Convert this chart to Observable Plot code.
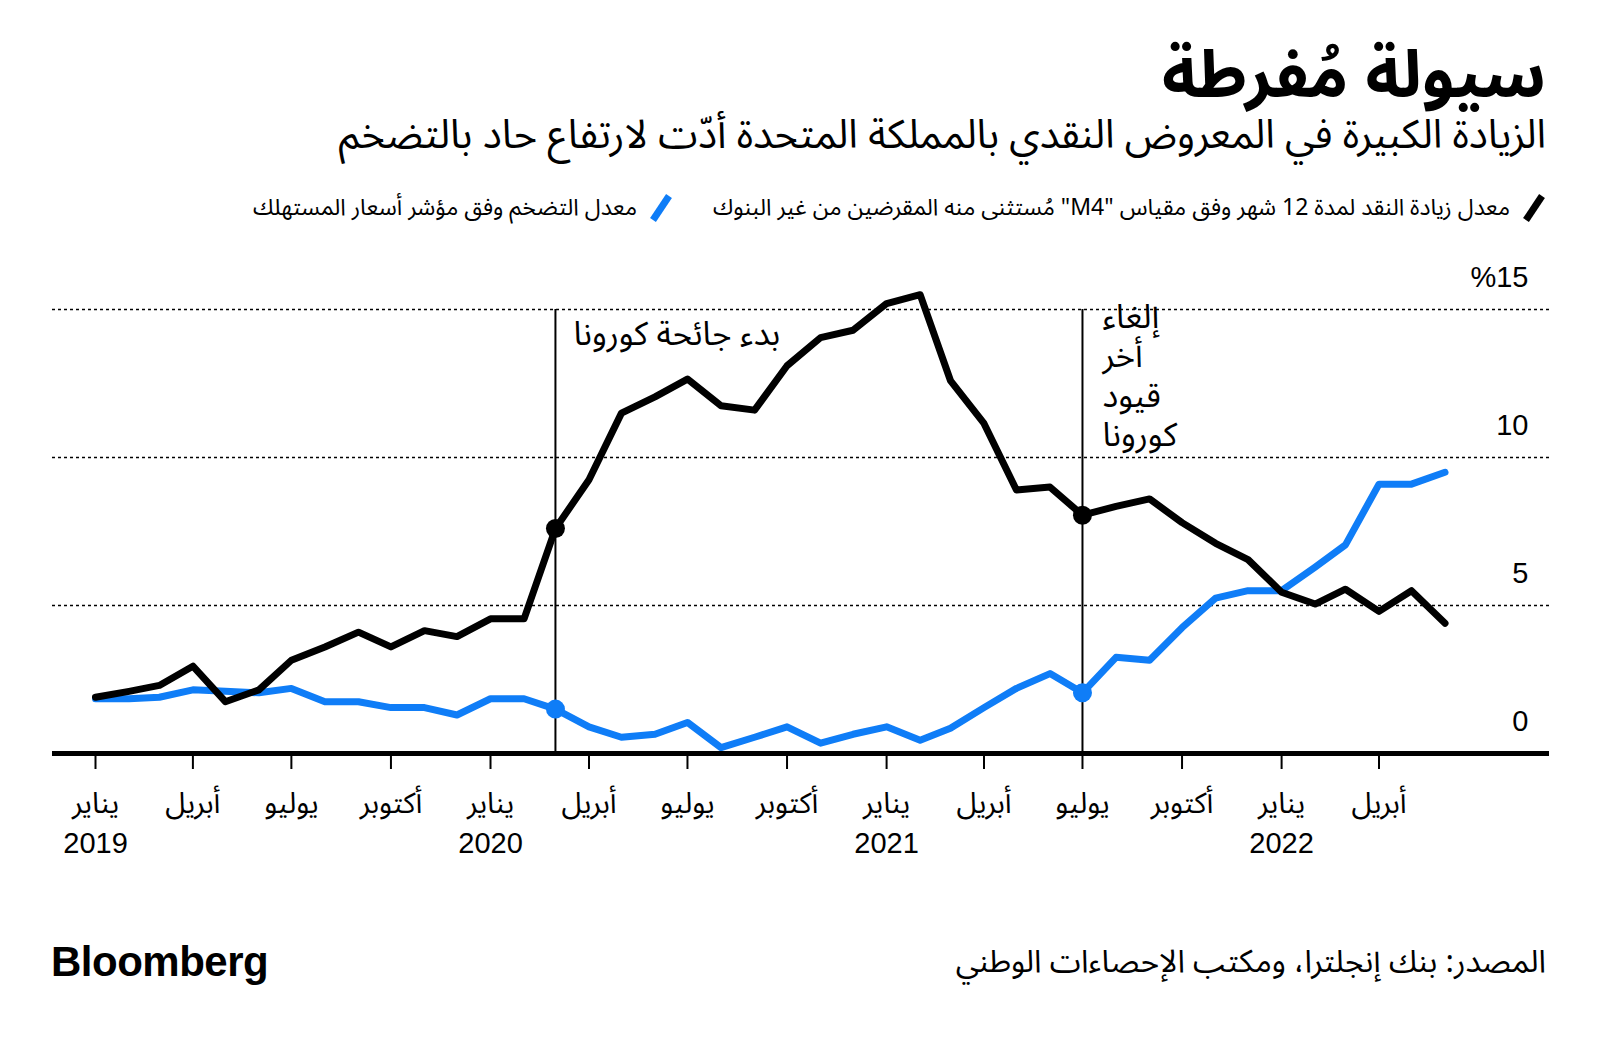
<!DOCTYPE html>
<html lang="ar">
<head>
<meta charset="utf-8">
<script src="https://cdn.jsdelivr.net/npm/d3@7"></script>
<script src="https://cdn.jsdelivr.net/npm/@observablehq/plot@0.6"></script>
<style>
  html, body { margin: 0; padding: 0; background: #fff; }
  #page { position: relative; width: 1600px; height: 1042px; overflow: hidden; background: #fff;
          font-family: "Noto Sans Arabic", "DejaVu Sans", sans-serif; color: #000; }
  .abs { position: absolute; white-space: nowrap; }
  #title { right: 54px; top: 37px; font-size: 66px; font-weight: 700; direction: rtl; line-height: 1.2; }
  #subtitle { right: 54px; top: 110px; font-size: 40px; direction: rtl; line-height: 1.3; }
  #legend { right: 54px; top: 193px; font-size: 23px; direction: rtl; display: flex; align-items: center; gap: 0; line-height: 1.3; }
  .item { display: flex; align-items: center; }
  .sw { margin-left: 12px; }
  .item + .item { margin-right: 40px; }
  #chart { position: absolute; left: 0; top: 250px; }
  #source { right: 54px; top: 942px; font-size: 31.5px; direction: rtl; line-height: 1.3; }
  #logo { left: 51px; top: 937px; font-family: "Liberation Sans", Arial, sans-serif; font-weight: 700; font-size: 42px; letter-spacing: -0.5px; line-height: 1.2; }
</style>
</head>
<body>
<div id="page">
  <div id="title" class="abs">سيولة مُفرطة</div>
  <div id="subtitle" class="abs">الزيادة الكبيرة في المعروض النقدي بالمملكة المتحدة أدّت لارتفاع حاد بالتضخم</div>
  <div id="legend" class="abs"></div>
  <div id="chart"></div>
  <div id="source" class="abs">المصدر: بنك إنجلترا، ومكتب الإحصاءات الوطني</div>
  <div id="logo" class="abs">Bloomberg</div>
</div>
<script>
// ---- data ----
const months = [
  "2019-01","2019-02","2019-03","2019-04","2019-05","2019-06","2019-07","2019-08","2019-09","2019-10","2019-11","2019-12",
  "2020-01","2020-02","2020-03","2020-04","2020-05","2020-06","2020-07","2020-08","2020-09","2020-10","2020-11","2020-12",
  "2021-01","2021-02","2021-03","2021-04","2021-05","2021-06","2021-07","2021-08","2021-09","2021-10","2021-11","2021-12",
  "2022-01","2022-02","2022-03","2022-04","2022-05","2022-06"
];
// M4 ex. intermediate OFCs, 12-month growth (%)
const m4Growth = [
  1.9, 2.1, 2.3, 2.95, 1.75, 2.15, 3.15, 3.6, 4.1, 3.6, 4.15, 3.95,
  4.55, 4.55, 7.6, 9.25, 11.5, 12.05, 12.65, 11.75, 11.6, 13.1, 14.05, 14.3,
  15.2, 15.5, 12.6, 11.15, 8.9, 9.0, 8.05, 8.35, 8.6, 7.8, 7.1, 6.55,
  5.45, 5.05, 5.55, 4.8, 5.5, 4.4
];
// CPI inflation (%)
const cpiInflation = [
  1.85, 1.85, 1.9, 2.15, 2.1, 2.05, 2.2, 1.75, 1.75, 1.55, 1.55, 1.3,
  1.85, 1.85, 1.5, 0.9, 0.55, 0.65, 1.05, 0.2, 0.55, 0.9, 0.35, 0.65,
  0.9, 0.45, 0.85, 1.55, 2.2, 2.7, 2.05, 3.25, 3.15, 4.25, 5.25, 5.5,
  5.5, 6.3, 7.05, 9.1, 9.1, 9.5
];
const tickMonths = ["2019-01","2019-04","2019-07","2019-10","2020-01","2020-04","2020-07","2020-10",
                    "2021-01","2021-04","2021-07","2021-10","2022-01","2022-04"];
const monthNames = {0: "يناير", 3: "أبريل", 6: "يوليو", 9: "أكتوبر"};
const yTicks = [0, 5, 10, 15];
const gridValues = [5, 10, 15];
const eventMonths = ["2020-03", "2021-07"];
const eventLabels = ["بدء جائحة كورونا", "إلغاء\nأخر\nقيود\nكورونا"];
const seriesNames = ["معدل زيادة النقد لمدة 12 شهر وفق مقياس \"M4\" مُستثنى منه المقرضين من غير البنوك", "معدل التضخم وفق مؤشر أسعار المستهلك"];
const seriesColors = ["#000000", "#0f7df7"];

// ---- build ----
const d = s => new Date(s + "-01T00:00:00Z");
const data = months.map((m, i) => ({date: d(m), m4: m4Growth[i], cpi: cpiInflation[i]}));
const events = eventMonths.map((m, i) => {
  const row = data.find(r => +r.date === +d(m));
  return {date: d(m), label: eventLabels[i], m4: row.m4, cpi: row.cpi};
});

// legend
const legend = document.getElementById("legend");
seriesNames.forEach((name, i) => {
  const item = document.createElement("div");
  item.className = "item";
  item.innerHTML = `<svg class="sw" width="24" height="30" viewBox="0 0 24 30"><line x1="4" y1="27" x2="20" y2="3" stroke="${seriesColors[i]}" stroke-width="7"/></svg><span>${name}</span>`;
  legend.appendChild(item);
});

const arabicFont = '"Noto Sans Arabic", "DejaVu Sans", sans-serif';
const chart = Plot.plot({
  width: 1600,
  height: 620,
  marginLeft: 52,
  marginRight: 51,
  marginTop: 59,
  marginBottom: 117,
  x: {type: "utc", domain: [d("2019-01"), d("2022-04")], range: [95, 1378.5]},
  y: {domain: [0, 15], axis: null},
  style: {fontFamily: '"Liberation Sans", Arial, "Noto Sans Arabic", "DejaVu Sans", sans-serif', color: "#000", background: "transparent", overflow: "visible"},
  marks: [
    Plot.ruleY(gridValues, {stroke: "#000", strokeWidth: 1.6, strokeDasharray: "3,3"}),
    Plot.ruleX(events, {x: "date", y1: 0, y2: 15, stroke: "#000", strokeWidth: 2}),
    Plot.text([events[0]], {x: "date", y: 15, text: "label", textAnchor: "start", lineAnchor: "top", dx: 18, dy: 12, fontSize: 33, fontFamily: arabicFont}),
    Plot.text([events[1]], {x: "date", y: 15, text: "label", textAnchor: "start", lineAnchor: "top", dx: 20, dy: -10, fontSize: 33, lineHeight: 1.2, fontFamily: arabicFont}),
    Plot.lineY(data, {x: "date", y: "cpi", stroke: seriesColors[1], strokeWidth: 7}),
    Plot.lineY(data, {x: "date", y: "m4", stroke: seriesColors[0], strokeWidth: 7}),
    Plot.dot(events, {x: "date", y: "m4", r: 9.5, fill: seriesColors[0]}),
    Plot.dot(events, {x: "date", y: "cpi", r: 9.5, fill: seriesColors[1]}),
    Plot.ruleY([0], {stroke: "#000", strokeWidth: 5}),
    Plot.axisX({
      ticks: tickMonths.map(d),
      tickSize: 16,
      tickPadding: 14,
      strokeWidth: 2,
      fontSize: 29,
      lineHeight: 1.41,
      tickFormat: t => monthNames[t.getUTCMonth()] + (t.getUTCMonth() === 0 ? "\n" + t.getUTCFullYear() : ""),
      label: null
    }),
    Plot.text(yTicks, {y: v => v, frameAnchor: "right", dx: -21, dy: -23, textAnchor: "end", lineAnchor: "bottom", fontSize: 29,
      text: v => v === 15 ? "%15" : String(v)})
  ]
});
document.getElementById("chart").appendChild(chart);
</script>
</body>
</html>
